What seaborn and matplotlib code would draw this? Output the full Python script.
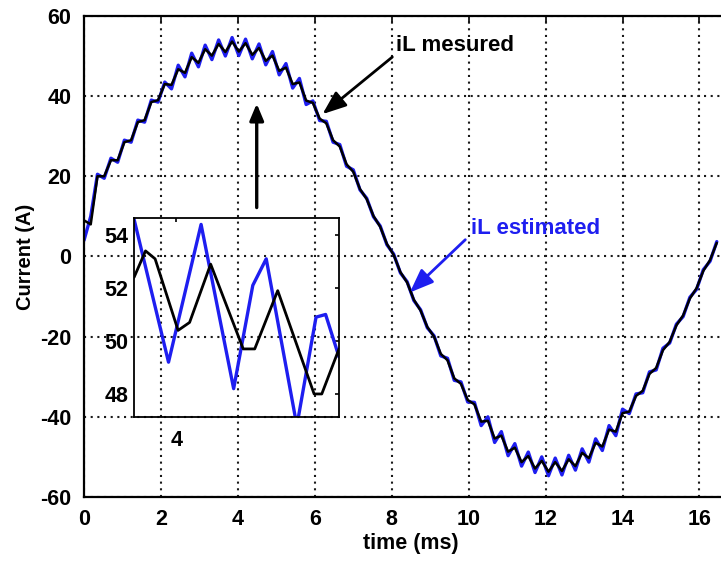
import numpy as np
import pandas as pd
import matplotlib
matplotlib.use("Agg")
import matplotlib.pyplot as plt
import seaborn as sns

# --- main trace, one sample every 0.175 ms ---
STEP_MS = 0.175
il_estimated = [
    4.0, 10.0, 20.5, 19.5, 24.5, 23.5, 29.0, 28.5, 34.0, 33.5,
    39.0, 38.5, 43.5, 41.8, 47.7, 44.8, 50.7, 47.3, 52.7, 49.1,
    54.0, 50.0, 54.6, 50.1, 54.2, 49.3, 53.0, 47.8, 51.1, 45.3,
    48.1, 42.0, 44.4, 37.9, 38.8, 33.9, 33.7, 28.5, 27.9, 22.5,
    21.6, 16.6, 14.5, 9.9, 7.6, 2.9, 0.6, -4.1, -6.3, -11.0,
    -13.3, -17.8, -19.8, -24.8, -25.4, -30.9, -31.3, -36.3, -36.4, -42.2,
    -40.0, -46.4, -43.7, -49.7, -46.7, -52.3, -48.8, -53.9, -50.0, -54.7,
    -50.3, -54.5, -49.6, -53.3, -48.0, -51.3, -45.5, -48.4, -42.2, -44.7,
    -38.1, -39.2, -34.3, -34.0, -28.8, -28.3, -22.9, -21.6, -16.9, -15.0,
    -10.2, -8.2, -3.3, -1.2, 3.7,
]
il_measured = [
    9.0, 8.0, 20.0, 20.0, 24.0, 24.0, 28.5, 29.0, 33.5, 34.0,
    38.5, 39.0, 43.0, 42.8, 46.7, 45.8, 49.7, 48.3, 51.7, 50.1,
    53.0, 51.0, 53.6, 51.1, 53.2, 50.3, 52.0, 48.8, 50.1, 46.3,
    47.1, 43.0, 43.4, 38.9, 38.3, 34.4, 33.2, 29.0, 27.4, 23.0,
    21.1, 16.8, 14.3, 10.1, 7.4, 3.1, 0.4, -3.9, -6.5, -10.8,
    -13.5, -17.6, -20.0, -24.3, -25.9, -30.4, -31.8, -35.8, -36.9, -41.2,
    -41.0, -45.4, -44.7, -48.7, -47.7, -51.3, -49.8, -52.9, -51.0, -53.7,
    -51.3, -53.5, -50.6, -52.3, -49.0, -50.3, -46.5, -47.4, -43.2, -43.7,
    -39.1, -38.7, -34.8, -33.5, -29.3, -27.8, -23.4, -21.3, -17.2, -14.7,
    -10.5, -7.9, -3.6, -0.9, 3.4,
]

# --- zoomed detail around the peak ---
zoom_t_est = [3.78, 3.96, 4.13, 4.30, 4.40, 4.47, 4.63, 4.73, 4.78, 4.85]
zoom_est = [54.6, 49.2, 54.4, 48.2, 52.1, 53.1, 46.8, 50.9, 51.0, 49.4]
zoom_t_meas = [3.78, 3.84, 3.89, 4.01, 4.07, 4.18, 4.35, 4.41, 4.53, 4.72, 4.76, 4.85]
zoom_meas = [52.4, 53.4, 53.1, 50.4, 50.7, 52.9, 49.7, 49.7, 51.9, 48.0, 48.0, 49.7]

x_ticks = [0, 2, 4, 6, 8, 10, 12, 14, 16]
y_ticks = [-60, -40, -20, 0, 20, 40, 60]
zoom_y_ticks = [48, 50, 52, 54]
zoom_x_ticks = [4]

BLUE = "#1e1ef0"

sns.set_style("white")
plt.rcParams["font.family"] = ["Liberation Sans", "DejaVu Sans"]
plt.rcParams["font.weight"] = "bold"
plt.rcParams["axes.unicode_minus"] = False

t_ms = np.round(np.arange(len(il_measured)) * STEP_MS, 3)
df = pd.DataFrame({"t": t_ms, "est": il_estimated, "meas": il_measured})

fig = plt.figure(figsize=(7.21, 5.62), dpi=100)
ax = fig.add_axes([0.1165, 0.1157, 0.907, 0.856])

sns.lineplot(data=df, x="t", y="est", ax=ax, color=BLUE, lw=2.4, sort=False, estimator=None)
sns.lineplot(data=df, x="t", y="meas", ax=ax, color="black", lw=1.8, sort=False, estimator=None)

ax.set_xlim(0, 17)
ax.set_ylim(-60, 60)
ax.set_xticks(x_ticks)
ax.set_yticks(y_ticks)
ax.grid(True, color="0.1", ls=(0, (1, 2.2)), lw=1.5)
ax.tick_params(direction="in", length=4, width=1.2, labelsize=15.5, pad=9,
               top=True, colors="black")
ax.set_xlabel("time (ms)", fontsize=15.5, fontweight="bold", labelpad=2, color="black")
ax.set_ylabel("Current (A)", fontsize=14.5, fontweight="bold", labelpad=4, color="black")
for side in ["left", "bottom", "top"]:
    ax.spines[side].set_color("black")
    ax.spines[side].set_linewidth(1.6)

# annotations
ax.annotate("", xy=(4.49, 38.8), xytext=(4.49, 11.5),
            arrowprops=dict(arrowstyle="-|>,head_length=1.0,head_width=0.42",
                            color="black", lw=2.4))
ax.annotate("iL mesured", xy=(6.2, 35.5), xytext=(8.1, 52.5),
            fontsize=16, fontweight="bold", color="black", va="center", ha="left",
            arrowprops=dict(arrowstyle="-|>,head_length=0.9,head_width=0.35",
                            color="black", lw=2.0, shrinkA=0, shrinkB=0,
                            relpos=(0.0, 0.1)))
ax.annotate("iL estimated", xy=(8.47, -9.0), xytext=(10.05, 7.0),
            fontsize=16, fontweight="bold", color=BLUE, va="center", ha="left",
            arrowprops=dict(arrowstyle="-|>,head_length=0.9,head_width=0.35",
                            color=BLUE, lw=2.0, shrinkA=2, shrinkB=0,
                            relpos=(0.0, 0.2)))

# inset
ins = fig.add_axes([0.1859, 0.258, 0.2843, 0.354])
ins.patch.set_alpha(0.0)
zest = pd.DataFrame({"t": zoom_t_est, "v": zoom_est})
zmeas = pd.DataFrame({"t": zoom_t_meas, "v": zoom_meas})
sns.lineplot(data=zest, x="t", y="v", ax=ins, color=BLUE, lw=2.4, sort=False, estimator=None)
sns.lineplot(data=zmeas, x="t", y="v", ax=ins, color="black", lw=2.0, sort=False, estimator=None)
ins.set_xlim(3.78, 4.85)
ins.set_ylim(47.13, 54.64)
ins.set_xticks(zoom_x_ticks)
ins.set_yticks(zoom_y_ticks)
ins.set_xlabel("")
ins.set_ylabel("")
ins.tick_params(direction="in", length=3, width=1.2, labelsize=15.5, pad=4,
                top=True, right=True, colors="black")
ins.tick_params(axis="x", pad=9)
for side in ins.spines.values():
    side.set_color("black")
    side.set_linewidth(1.3)

fig.savefig("out.png", dpi=100)
